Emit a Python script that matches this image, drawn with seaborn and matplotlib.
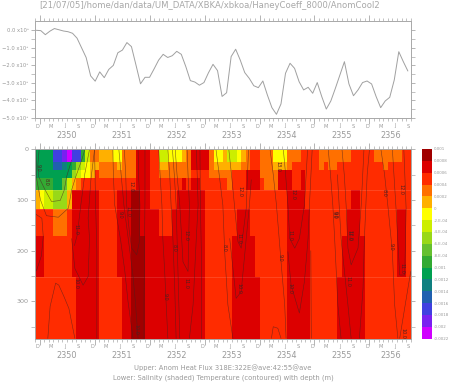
import numpy as np
import matplotlib
matplotlib.use('Agg')
import matplotlib.pyplot as plt
from matplotlib.colors import ListedColormap, BoundaryNorm
import seaborn as sns

title = '[21/07/05]/home/dan/data/UM_DATA/XBKA/xbkoa/HaneyCoeff_8000/AnomCool2'
upper_txt = 'Upper: Anom Heat Flux 318E:322E@ave:42:55@ave'
lower_txt = 'Lower: Salinity (shaded) Temperature (contoured) with depth (m)'

# anomaly heat flux, in thousands, one value per step
heat_flux = [0.0, -0.02, -0.25, -0.05, 0.1, 0.03, -0.04, -0.08, -0.17, -0.45, -1.0, -1.55, -2.6, -2.9,
             -2.37, -2.7, -2.23, -2.0, -1.28, -1.13, -0.7, -0.93, -1.98, -3.05, -2.68, -2.68, -2.2, -1.7,
             -1.37, -1.55, -1.45, -1.2, -1.37, -2.07, -2.87, -2.95, -3.13, -2.98, -2.42, -1.94, -2.3, -3.77,
             -3.56, -1.5, -1.08, -1.69, -2.41, -2.74, -3.16, -3.27, -2.89, -3.69, -4.41, -4.79, -4.2, -2.45,
             -1.88, -2.17, -2.93, -3.4, -3.25, -3.59, -2.98, -3.78, -4.49, -4.03, -3.31, -2.55, -1.79, -3.06,
             -3.73, -3.4, -2.98, -2.89, -3.06, -3.78, -4.41, -4.03, -3.82, -2.83, -1.22, -1.79, -2.32]

y_ticks_top = [0, -1, -2, -3, -4, -5]
y_labels_top = ['0.0 x10³', '\u22121.0 x10³', '\u22122.0 x10³', '\u22123.0 x10³', '\u22124.0 x10³', '\u22125.0 x10³']
month_names = ['D', 'M', 'J', 'S']
years = ['2350', '2351', '2352', '2353', '2354', '2355', '2356']
year_pos = [7, 19, 31, 43, 55, 67, 77.6]

depth_edges = [0, 26, 41, 57, 80, 117, 171, 251, 375]
depth_ticks = [0, 100, 200, 300]

# salinity classes, middle of each colour band (1e-4)
A, B, C, D, E, F, G, H, I, J, K, L, M, N, O, P = 9, 7, 5, 3, 1, -1, -3, -5, -7, -9, -11, -13, -15, -17, -19, -21

row0_v = [K, N, O, P, N, J, G, D, E, F, D, B, C, G, F, E, D, B, D, F, E, G, F, E, D, C, D, F, D, C, D, C, D, C]
row0_n = [4, 2, 1, 1, 2, 1, 1, 2, 3, 2, 3, 3, 2, 2, 3, 1, 1, 4, 1, 2, 1, 2, 1, 1, 1, 2, 3, 3, 3, 4, 7, 5, 6, 2]
row1_v = [K, M, L, K, J, H, G, F, E, D, E, D, B, C, E, D, B, D, E, D, C, D, E, D, C, D, C, D, C, D, C]
row1_n = [4, 2, 1, 1, 1, 1, 1, 1, 2, 4, 1, 3, 3, 2, 2, 5, 4, 1, 6, 2, 2, 3, 3, 1, 6, 1, 1, 2, 10, 1, 5]
row2_v = [K, H, G, F, E, C, D, B, C, D, C, D, C, B, D, B, C, B, C]
row2_n = [8, 1, 1, 2, 1, 1, 8, 3, 2, 7, 4, 5, 3, 3, 4, 3, 2, 1, 23]
row3_v = [J, K, I, G, E, D, C, B, C, B, C, B, C, D, C, B, C, D, B, C, B, C]
row3_n = [4, 2, 1, 1, 1, 1, 12, 3, 7, 1, 1, 2, 6, 1, 3, 3, 1, 3, 3, 2, 1, 23]
row4_v = [E, F, G, H, E, B, C, B, A, B, C, B, C, B, C, B, C]
row4_n = [1, 1, 2, 3, 1, 6, 4, 3, 2, 2, 6, 6, 18, 4, 10, 2, 11]
row5_v = [C, D, C, B, C, B, A, B, C, B, C, B, C, B, C, B, C, B, C]
row5_n = [4, 3, 1, 6, 4, 3, 2, 4, 3, 7, 7, 3, 8, 5, 8, 3, 8, 2, 1]
row6_v = [B, C, B, C, B, A, B, C, B, C, B, C, B, C, B, C]
row6_n = [2, 6, 6, 4, 3, 3, 13, 6, 5, 7, 5, 7, 5, 7, 2, 1]
row7_v = [C, B, C, B, A, B, C, B, C, B, C, B, C]
row7_n = [9, 5, 5, 2, 3, 13, 6, 6, 6, 5, 6, 6, 10]

band_colors = ['#d000ff', '#7a20f0', '#4040e0', '#2060b0', '#108080', '#00a050', '#33aa33', '#66c030',
               '#99d818', '#ccee00', '#ffff00', '#ffb000', '#ff7000', '#ff2c00', '#dc0000', '#a00000']
band_levels = [-22, -20, -18, -16, -14, -12, -10, -8, -6, -4, -2, 0, 2, 4, 6, 8, 10]
band_labels = ['-0.0022', '-0.002', '-0.0018', '-0.0016', '-0.0014', '-0.0012', '-0.001', '-8.E-04', '-6.E-04',
               '-4.E-04', '-2.E-04', '0', '0.0002', '0.0004', '0.0006', '0.0008', '0.001']

# temperature contours, month then depth
contour_m = [
    [2.8, 3.3, 4.5, 5.2, 6.3, 7.4, 8.7],
    [0.9, 0.6, 0.8, 2.2, 3.6, 5.5, 6.4, 6.9, 8],
    [0, 1.5, 1.8, 1.4, 0.3],
    [0.2, 0.4, 1.2, 2.5, 5.1, 7.3, 8, 8.9, 10.2, 10.9],
    [11.9, 10.9, 10, 9.2, 8.6],
    [8, 8.7, 10.5, 11.6, 11.9, 11.6, 12.2, 13],
    [13, 13.2, 13.5, 13.5, 13.5],
    [17, 17.1, 17.4, 18.7, 19.6, 20.3, 21.4],
    [18.3, 18.8, 19.4, 20.4, 21.4, 21.9, 22.5],
    [19.5, 19.8, 20, 20.6, 21.1, 22.2, 22.8, 22.9, 22.6, 22.5],
    [24, 24, 23.9, 23.8, 23.8],
    [27, 27.3, 27.7, 27.9, 28.3, 28.6, 29],
    [29, 29.4, 29.7, 30.1, 30.5, 30.8],
    [30.6, 31, 31.6, 32.3, 33.4, 33.7, 33.4, 33.2],
    [30, 30.4, 30.8, 31.2, 31.6],
    [35.2, 35.4, 35.6, 35.2, 34.5, 33.7],
    [36, 36.1, 36.3, 36.3],
    [39.5, 40.2, 41, 41.4, 42.1, 43.2],
    [42.3, 43, 43.6, 44.3, 45, 46.1, 46.6],
    [47.2, 46.8, 46.1, 45, 43.9, 42.5],
    [51.3, 52, 52.7, 53.7, 54.5, 54.8],
    [51.6, 52, 53, 53.7],
    [54.2, 54.7, 55.2, 55.6, 56.7, 57.7, 58.8, 59.5],
    [55.2, 55.9, 57.7, 58.8, 59.6, 59.9, 60.5],
    [60.2, 60.3],
    [64, 64.5, 65, 65.4, 66.1, 66.8],
    [67, 67.5, 67.9, 68.3, 69, 70.5, 71.2, 71.8],
    [66, 66.8, 68.3, 69],
    [73, 72.5, 71.9, 71.6, 70.8],
    [75.5, 76.3, 77, 78, 78.5, 79.2],
    [78, 78.8, 79.6, 80.7, 81, 80.5],
    [79.6, 82],
]
contour_d = [
    [373, 310, 264, 268, 290, 314, 373],
    [0, 34, 54, 80, 103, 101, 80, 54, 21],
    [127, 136, 172, 210, 240],
    [0, 60, 100, 131, 134, 116, 80, 54, 21, 0],
    [0, 47, 110, 170, 190],
    [176, 235, 268, 251, 176, 136, 60, 0],
    [0, 100, 200, 300, 373],
    [0, 50, 110, 180, 240, 300, 373],
    [0, 50, 110, 180, 250, 300, 373],
    [0, 50, 110, 163, 195, 208, 182, 110, 50, 0],
    [0, 100, 200, 300, 373],
    [0, 50, 110, 176, 240, 300, 373],
    [0, 50, 110, 176, 274, 373],
    [0, 50, 110, 222, 241, 110, 50, 0],
    [0, 50, 110, 240, 373],
    [0, 50, 110, 176, 307, 373],
    [0, 110, 200, 373],
    [0, 50, 110, 202, 307, 373],
    [0, 60, 117, 182, 195, 117, 0],
    [60, 110, 176, 281, 294, 176],
    [0, 50, 110, 222, 307, 373],
    [373, 350, 353, 373],
    [0, 50, 110, 176, 195, 176, 110, 0],
    [202, 268, 323, 261, 176, 110, 0],
    [200, 373],
    [0, 50, 110, 176, 307, 373],
    [0, 50, 110, 195, 228, 195, 110, 0],
    [50, 176, 307, 373],
    [0, 50, 176, 274, 373],
    [0, 50, 110, 202, 307, 373],
    [0, 117, 248, 248, 117, 0],
    [373, 241],
]
clabel_m = [18.6, 20.4, 9.0, 9.0, 22.1, 28.5, 30.3, 32.9, 32.9, 41.2, 44.5, 44.5, 53.5, 55.7, 55.7, 65.4, 68.5,
            68.3, 77.7, 80.1, 80.3, 44.8, 53.1, 56.2, 65.5, 68.7, 76.3, 79.8, 0.7, 2.5, 20.9]
clabel_d = [130, 123, 159, 264, 356, 291, 195, 169, 264, 194, 176, 274, 215, 169, 274, 130, 169,
            260, 192, 235, 363, 83, 34, 90, 129, 169, 85, 80, 37, 64, 74]
clabel_t = ['9.0', '11.0', '11.0', '10.0', '10.0', '9.0', '8.0', '12.0', '11.0', '8.0', '11.0', '10.0', '9.0', '11.0',
            '10.0', '9.0', '11.0', '11.0', '9.0', '11.0', '10.0', '12.0', '13.0', '12.0', '9.0', '12.0', '8.0', '12.0',
            '9.0', '8.0', '12.0']

sns.set_style('white')
GREY = '#a8a8a8'
TXT = '#999999'
W, H = 449, 382
n_months = 82


def px_axes(x0, x1, y0, y1):
    return fig.add_axes([x0 / W, 1 - y1 / H, (x1 - x0) / W, (y1 - y0) / H])


def style_time_axis(ax):
    ax.set_xlim(0, n_months)
    ax.set_xticks(np.arange(1, n_months, 12))
    ax.set_xticks(np.arange(0, n_months + 1), minor=True)
    ax.set_xticklabels([])
    ax.tick_params(axis='x', which='major', top=True, bottom=True, length=4, width=0.6, color=GREY, direction='out')
    ax.tick_params(axis='x', which='minor', top=True, bottom=True, length=2.2, width=0.5, color=GREY, direction='out')
    ax.tick_params(axis='y', which='major', left=True, right=True, length=3, width=0.6, color=GREY, direction='out',
                   pad=1.5, labelsize=3.8, labelcolor=TXT)
    ax.tick_params(axis='y', which='minor', left=True, right=True, length=3, width=0.5, color=GREY, direction='out')
    for sp in ax.spines.values():
        sp.set_visible(True)
        sp.set_color(GREY)
        sp.set_linewidth(0.7)
    trans = ax.get_xaxis_transform()
    ax_h = ax.get_position().height * H
    for i in range(0, n_months, 3):
        ax.text(i + 0.5, -5.5 / ax_h, month_names[(i // 3) % 4], transform=trans, ha='center', va='top',
                fontsize=3.6, color=TXT)
    for yr, pos in zip(years, year_pos):
        ax.text(pos, -12.5 / ax_h, yr, transform=trans, ha='center', va='top', fontsize=5.9, color=TXT)


fig = plt.figure(figsize=(W / 100, H / 100), dpi=100)

# upper panel
ax1 = px_axes(35, 410.7, 21, 118)
steps = np.arange(len(heat_flux))
sns.lineplot(x=0.28 + steps * 81.1 / 82, y=heat_flux, ax=ax1, color='#a0a0a0', lw=0.7)
ax1.set_ylim(-5, 0.53)
ax1.set_yticks(y_ticks_top)
ax1.set_yticklabels(y_labels_top)
ax1.set_yticks(np.arange(-4.5, 0.5, 1), minor=True)
style_time_axis(ax1)

# lower panel
ax2 = px_axes(35, 410.7, 149.3, 338.7)
rows = [(row0_v, row0_n), (row1_v, row1_n), (row2_v, row2_n), (row3_v, row3_n),
        (row4_v, row4_n), (row5_v, row5_n), (row6_v, row6_n), (row7_v, row7_n)]
salinity = np.array([np.repeat(v, n) for v, n in rows], dtype=float)
cmap = ListedColormap(band_colors)
norm = BoundaryNorm(band_levels, cmap.N)
ax2.pcolormesh(np.arange(n_months + 1), depth_edges, salinity, cmap=cmap, norm=norm, linewidth=0, antialiased=False)
for d in [80, 117, 251]:
    ax2.axhline(d, color='white', lw=0.5, alpha=0.18)
for xs, ds in zip(contour_m, contour_d):
    ax2.plot(xs, ds, color='#4a2020', lw=0.4, alpha=0.7)
for x, d, t in zip(clabel_m, clabel_d, clabel_t):
    ax2.text(x, d, t, rotation=270, ha='center', va='center', fontsize=3.5, color='#502020')
ax2.set_ylim(373.6, 0)
ax2.set_yticks(depth_ticks)
ax2.set_yticks(np.arange(50, 373, 100), minor=True)
style_time_axis(ax2)
ax2.tick_params(axis='y', which='major', labelsize=4.6)

# colour bar
cax = px_axes(421.5, 432, 149, 338.7)
cax.pcolormesh([0, 1], band_levels, np.array(band_levels[:-1])[:, None] + 1, cmap=cmap, norm=norm, antialiased=False)
cax.set_xlim(0, 1)
cax.set_ylim(band_levels[0], band_levels[-1])
cax.set_xticks([])
cax.yaxis.tick_right()
cax.set_yticks(band_levels)
cax.set_yticklabels(band_labels)
cax.tick_params(axis='y', length=0, pad=1.5, labelsize=2.9, labelcolor=TXT)
for sp in cax.spines.values():
    sp.set_visible(False)

fig.text(210 / W, 1 - 5.5 / H, title, ha='center', va='center', fontsize=6.1, color='#a8a8a8')
fig.text(223 / W, 1 - 367.7 / H, upper_txt, ha='center', va='center', fontsize=4.9, color=TXT)
fig.text(223 / W, 1 - 378 / H, lower_txt, ha='center', va='center', fontsize=4.9, color=TXT)

fig.savefig('out.png', dpi=100)
